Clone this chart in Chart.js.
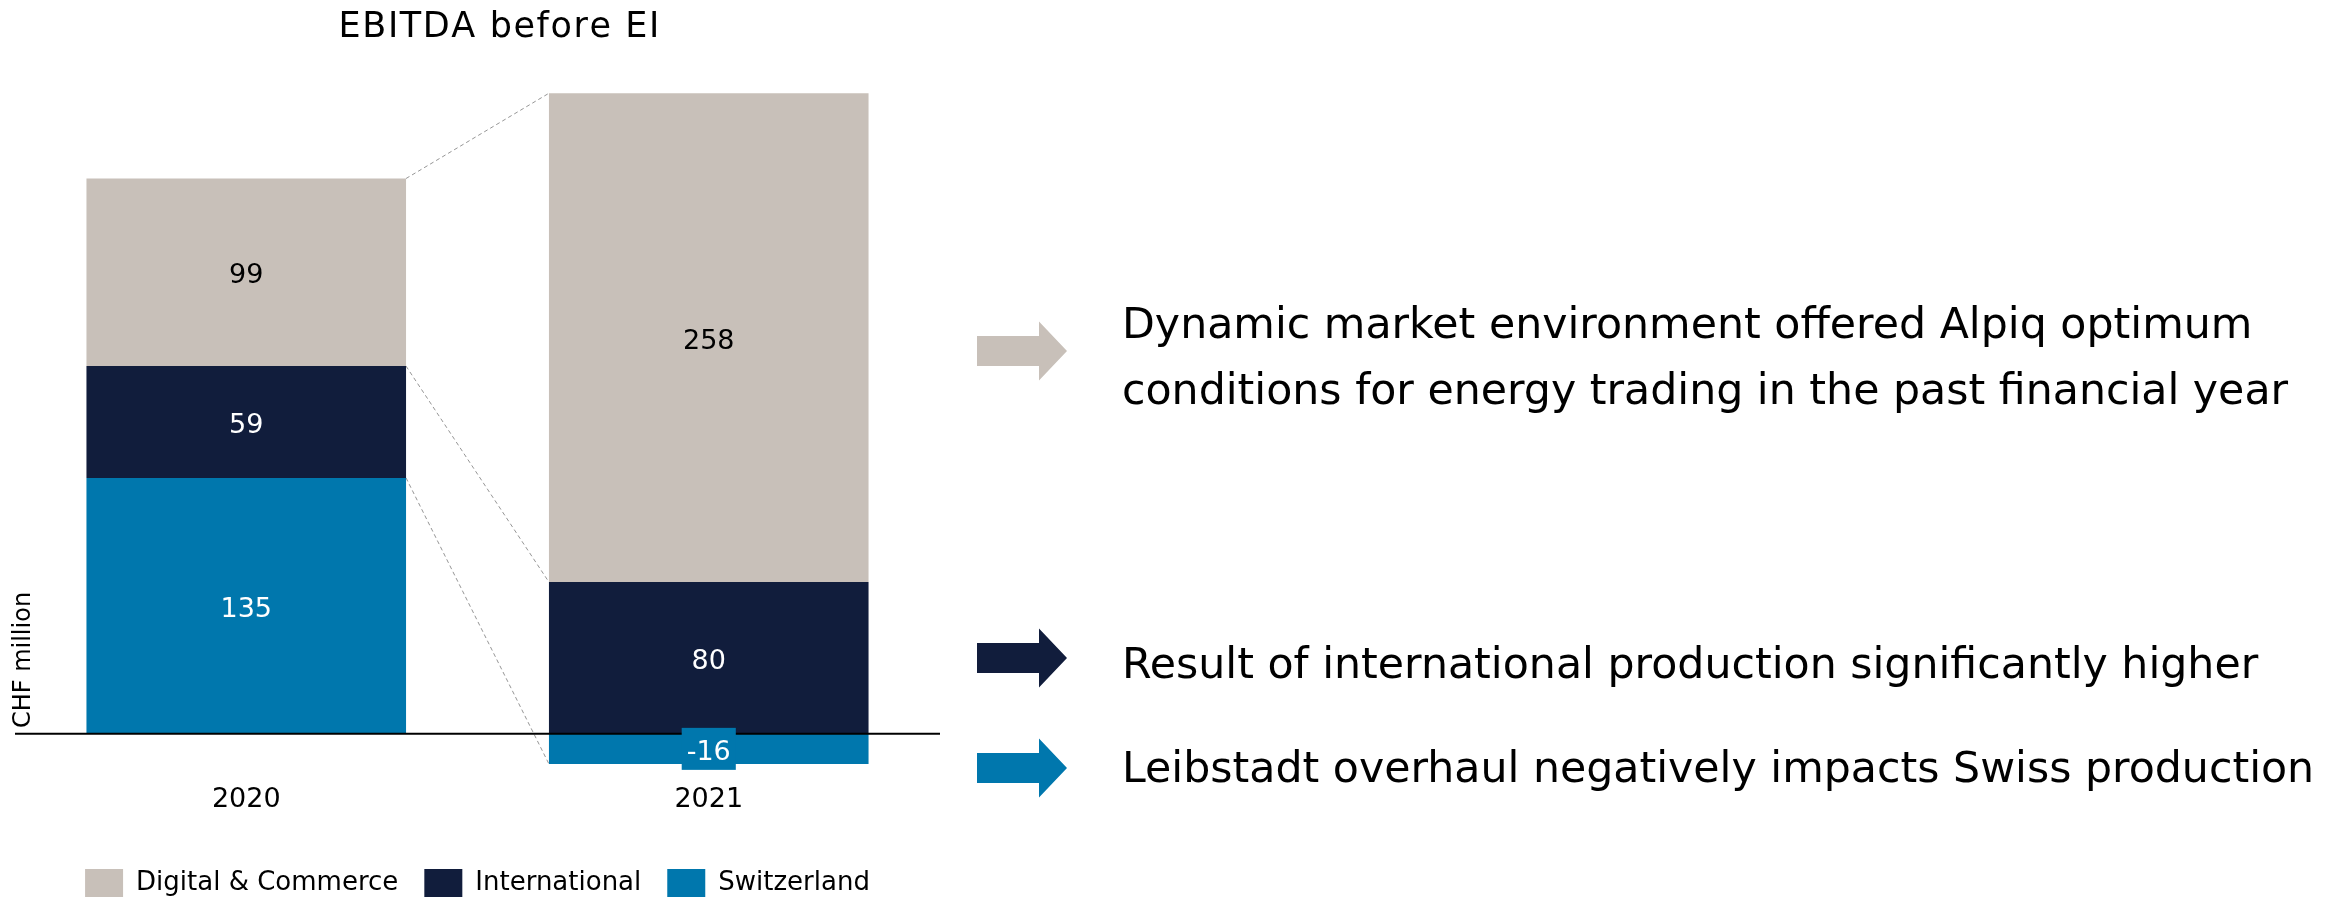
<!DOCTYPE html>
<html><head><meta charset="utf-8">
<script src="https://cdn.jsdelivr.net/npm/chart.js@4.4.1/dist/chart.umd.min.js"></script>
<style>html,body{margin:0;padding:0;background:#fff;}#wrap{width:2346px;height:899px;}</style>
</head><body><div id="wrap"><canvas id="c" width="2346" height="899"></canvas></div>
<script>
// ---- data ----
const categories = ['2020', '2021'];
const seriesNames = ['Switzerland', 'International', 'Digital & Commerce'];
const switzerland = [135, -16];
const international = [59, 80];
const digitalCommerce = [99, 258];
const chartTitle = 'EBITDA before EI';
const yAxisTitle = 'CHF million';
const notes = [
  ['Dynamic market environment offered Alpiq optimum', 'conditions for energy trading in the past financial year'],
  ['Result of international production significantly higher'],
  ['Leibstadt overhaul negatively impacts Swiss production']
];
const yMin = -20, yMax = 350;

// ---- styles ----
const C_SWISS = '#0077AD', C_INTL = '#111D3C', C_DIGI = '#C8C0B9';
const FONT = 'DejaVu Sans';
Chart.defaults.font.family = FONT;
Chart.defaults.color = '#000';

const connectors = {
  id: 'connectors',
  beforeDatasetsDraw(chart) {
    const ctx = chart.ctx;
    ctx.save();
    ctx.setLineDash([4, 3]);
    ctx.strokeStyle = '#959595';
    ctx.lineWidth = 1;
    chart.getSortedVisibleDatasetMetas().forEach(meta => {
      const a = meta.data[0].getProps(['x', 'y', 'width'], true);
      const b = meta.data[1].getProps(['x', 'y', 'width'], true);
      ctx.beginPath();
      ctx.moveTo(a.x + a.width / 2, a.y);
      ctx.lineTo(b.x - b.width / 2, b.y);
      ctx.stroke();
    });
    ctx.restore();
  }
};

const zeroAndLabels = {
  id: 'zeroAndLabels',
  afterDatasetsDraw(chart) {
    const ctx = chart.ctx, ca = chart.chartArea;
    const y0 = chart.scales.y.getPixelForValue(0);
    ctx.save();
    ctx.strokeStyle = '#000';
    ctx.lineWidth = 2;
    ctx.beginPath();
    ctx.moveTo(ca.left, y0);
    ctx.lineTo(ca.right, y0);
    ctx.stroke();
    ctx.font = '27px "' + FONT + '"';
    ctx.textAlign = 'center';
    ctx.textBaseline = 'middle';
    chart.getSortedVisibleDatasetMetas().forEach(meta => {
      const ds = chart.data.datasets[meta.index];
      meta.data.forEach((el, i) => {
        const p = el.getProps(['x', 'y', 'base'], true);
        const cy = (p.y + p.base) / 2;
        const txt = String(ds.data[i]);
        if (Math.abs(p.y - p.base) < 40) {
          const w = ctx.measureText(txt).width + 10;
          ctx.fillStyle = ds.backgroundColor;
          ctx.fillRect(p.x - w / 2, cy - 21, w, 42);
        }
        ctx.fillStyle = ds.labelColor;
        ctx.fillText(txt, p.x, cy + 4);
      });
    });
    ctx.restore();
  }
};

function spacedText(ctx, text, cx, y, spacing) {
  const ws = [...text].map(ch => ctx.measureText(ch).width);
  const total = ws.reduce((s, w) => s + w, 0) + spacing * (ws.length - 1);
  let x = cx - total / 2;
  ctx.textAlign = 'left';
  [...text].forEach((ch, i) => { ctx.fillText(ch, x, y); x += ws[i] + spacing; });
}

const extras = {
  id: 'extras',
  afterDraw(chart) {
    const ctx = chart.ctx;
    ctx.save();
    // title
    ctx.fillStyle = '#000';
    ctx.font = '35px "' + FONT + '"';
    ctx.textBaseline = 'alphabetic';
    spacedText(ctx, chartTitle, 499, 37, 1.6);
    // y axis title
    ctx.save();
    ctx.translate(24, 660);
    ctx.rotate(-Math.PI / 2);
    ctx.font = '24px "' + FONT + '"';
    ctx.textAlign = 'center';
    ctx.textBaseline = 'middle';
    ctx.fillText(yAxisTitle, 0, 0);
    ctx.restore();
    // arrows + notes
    const arrows = [
      {cy: 351, color: C_DIGI, lines: notes[0], base: [338, 404]},
      {cy: 658, color: C_INTL, lines: notes[1], base: [678]},
      {cy: 768, color: C_SWISS, lines: notes[2], base: [782]}
    ];
    const x0 = 977, xm = 1039, xt = 1067, bh = 15, hh = 29.5;
    arrows.forEach(a => {
      ctx.fillStyle = a.color;
      ctx.beginPath();
      ctx.moveTo(x0, a.cy - bh);
      ctx.lineTo(xm, a.cy - bh);
      ctx.lineTo(xm, a.cy - hh);
      ctx.lineTo(xt, a.cy);
      ctx.lineTo(xm, a.cy + hh);
      ctx.lineTo(xm, a.cy + bh);
      ctx.lineTo(x0, a.cy + bh);
      ctx.closePath();
      ctx.fill();
      ctx.fillStyle = '#000';
      ctx.font = '42.7px "' + FONT + '"';
      ctx.textAlign = 'left';
      ctx.textBaseline = 'alphabetic';
      a.lines.forEach((t, k) => ctx.fillText(t, 1122, a.base[k]));
    });
    ctx.restore();
  }
};

new Chart(document.getElementById('c'), {
  type: 'bar',
  data: {
    labels: categories,
    datasets: [
      {label: seriesNames[0], data: switzerland, backgroundColor: C_SWISS, labelColor: '#fff'},
      {label: seriesNames[1], data: international, backgroundColor: C_INTL, labelColor: '#fff'},
      {label: seriesNames[2], data: digitalCommerce, backgroundColor: C_DIGI, labelColor: '#000'}
    ].map(d => Object.assign(d, {barPercentage: 0.691, categoryPercentage: 1, borderWidth: 0}))
  },
  options: {
    responsive: false,
    animation: false,
    devicePixelRatio: 1,
    layout: {padding: {left: 15, right: 1406, top: 70.5, bottom: -8}},
    plugins: {
      title: {display: false},
      tooltip: {enabled: false},
      legend: {
        position: 'bottom',
        reverse: true,
        labels: {boxWidth: 38, boxHeight: 28, padding: 26, font: {size: 26}, color: '#000'}
      }
    },
    scales: {
      x: {
        stacked: true,
        grid: {display: false, drawTicks: false},
        border: {display: false},
        ticks: {font: {size: 27}, color: '#000', padding: 12},
        afterFit: s => { s.height += 15; }
      },
      y: {stacked: true, display: false, min: yMin, max: yMax}
    }
  },
  plugins: [connectors, zeroAndLabels, extras]
});
</script>
</body></html>
